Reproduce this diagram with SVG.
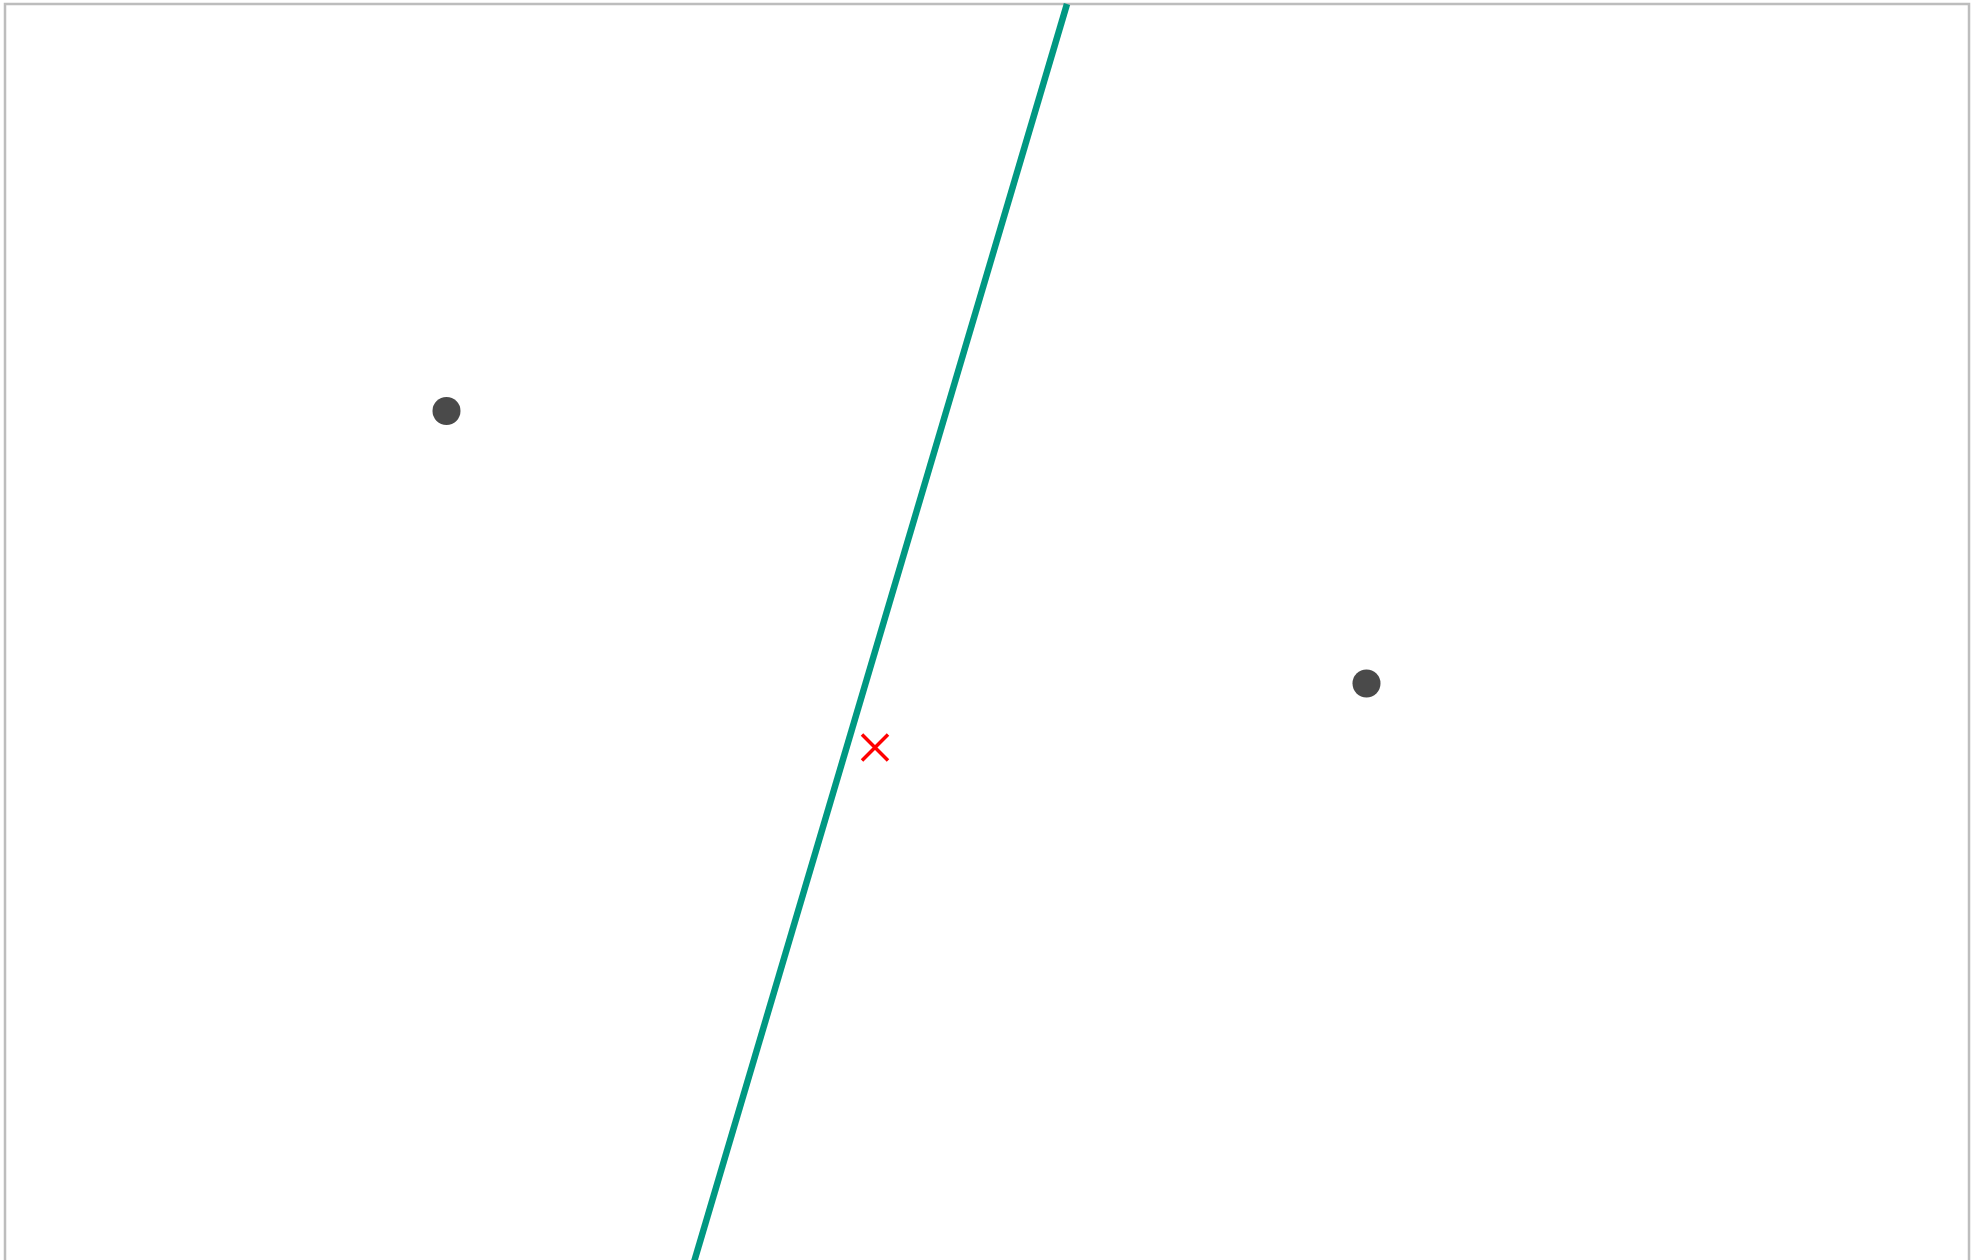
<svg xmlns="http://www.w3.org/2000/svg" width="1979" height="1260" viewBox="0 0 1979 1260">
  <style>
    .frame { fill: none; stroke: #bdbdbd; stroke-width: 2.5; }
    .bisector { stroke: #009882; stroke-width: 6.5; fill: none; }
    .site { fill: #4a4a4a; }
    .mark { stroke: #ff0000; stroke-width: 3.5; fill: none; }
  </style>
  <rect width="1979" height="1260" fill="#ffffff"/>
  <rect class="frame" x="5" y="4" width="1964" height="1270"/>
  <g id="connectors">
    <line class="bisector" x1="1067" y1="4" x2="694" y2="1262"/>
  </g>
  <g id="site-a">
    <circle class="site" cx="446.5" cy="411" r="14"/>
  </g>
  <g id="site-b">
    <circle class="site" cx="1366.5" cy="683.5" r="14"/>
  </g>
  <g id="marker-x">
    <path class="mark" d="M862 734.5 L888 760.5 M888 734.5 L862 760.5"/>
  </g>
</svg>
